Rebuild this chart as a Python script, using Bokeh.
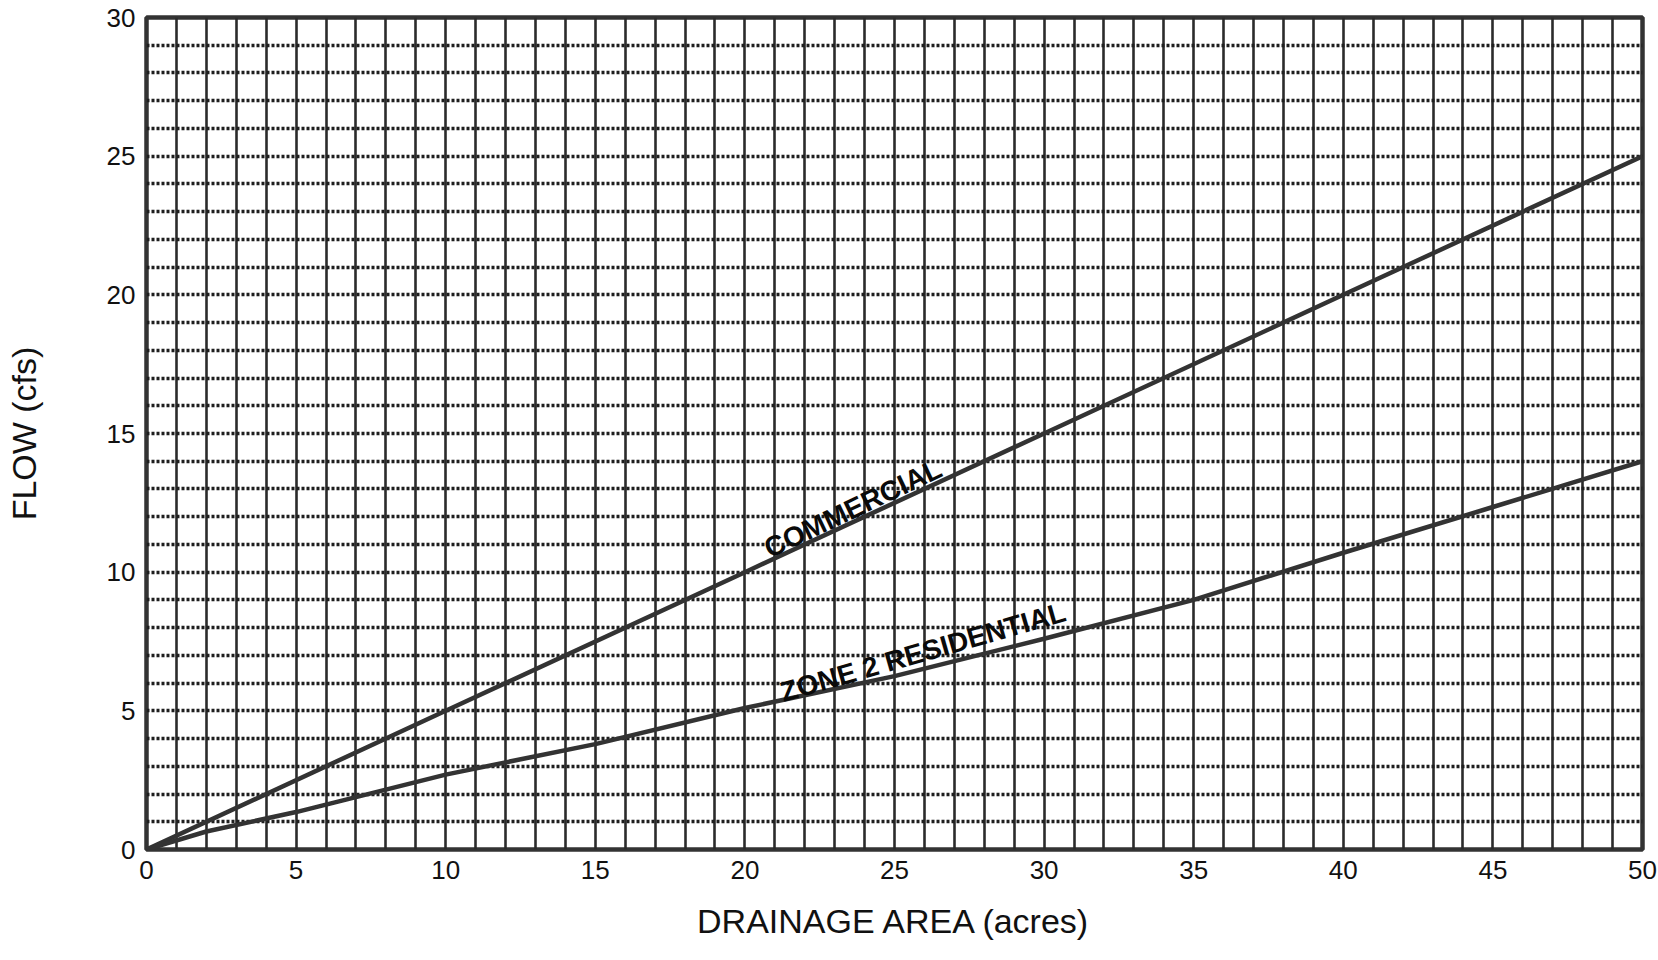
from bokeh.plotting import figure
from bokeh.models import FixedTicker, Range1d
from bokeh.core.properties import value
from bokeh.embed import file_html
from bokeh.resources import INLINE

# ---- data ----
commercial_acres = [0, 10, 20, 30, 40, 50]
commercial_flow = [0, 5, 10, 15, 20, 25]

residential_acres = [0, 2, 5, 10, 15, 20, 25, 30, 35, 40, 45, 50]
residential_flow = [0, 0.65, 1.35, 2.7, 3.8, 5.1, 6.25, 7.6, 9.0, 10.7, 12.35, 14.0]

x_ticks = [0, 5, 10, 15, 20, 25, 30, 35, 40, 45, 50]
y_ticks = [0, 5, 10, 15, 20, 25, 30]
x_grid = list(range(0, 51))
y_grid = list(range(0, 31))

x_title = "DRAINAGE AREA (acres)"
y_title = "FLOW (cfs)"

label_names = ["COMMERCIAL", "ZONE 2 RESIDENTIAL"]
label_x = [20.7, 21.2]
label_y = [10.8, 5.65]
label_angle = [25.5, 16.0]

FONT = "Liberation Sans"
DARK = "#2b2b2b"

p = figure(width=1658, height=960, output_backend="svg", toolbar_location=None,
           x_range=Range1d(0, 50), y_range=Range1d(0, 30),
           min_border_left=146, min_border_right=16, min_border_top=17,
           min_border_bottom=111)

p.background_fill_color = "white"
p.border_fill_color = "white"
p.outline_line_color = "#333333"
p.outline_line_width = 4.5

# grid
p.xgrid.ticker = FixedTicker(ticks=x_grid)
p.ygrid.ticker = FixedTicker(ticks=y_grid)
p.xgrid.grid_line_color = DARK
p.xgrid.grid_line_width = 2.6
p.xgrid.grid_line_alpha = 1.0
p.ygrid.grid_line_color = "#1e1e1e"
p.ygrid.grid_line_width = 3.6
p.ygrid.grid_line_dash = "3 2"
p.ygrid.grid_line_alpha = 1.0

# axes
for ax, ticks in ((p.xaxis, x_ticks), (p.yaxis, y_ticks)):
    ax.ticker = FixedTicker(ticks=ticks)
    ax.axis_line_color = None
    ax.major_tick_line_color = None
    ax.minor_tick_line_color = None
    ax.major_tick_out = 0
    ax.major_tick_in = 0
    ax.major_label_text_font = FONT
    ax.major_label_text_font_size = "26px"
    ax.major_label_text_color = "#111111"
    ax.major_label_standoff = 11
    ax.axis_label_text_font = FONT
    ax.axis_label_text_font_size = "34px"
    ax.axis_label_text_font_style = "normal"
    ax.axis_label_text_color = "#111111"

p.xaxis.axis_label = x_title
p.yaxis.axis_label = y_title
p.xaxis.axis_label_standoff = 20
p.yaxis.axis_label_standoff = 61

# curves
p.line(commercial_acres, commercial_flow, line_color="#333333", line_width=4.5)
p.line(residential_acres, residential_flow, line_color="#333333", line_width=4.5)

# labels
p.text(x=label_x, y=label_y, text=label_names, angle=label_angle, angle_units="deg",
       text_font=value(FONT), text_font_style="bold", text_font_size="28px",
       text_color="#0a0a0a", text_align="left", text_baseline="alphabetic")

open("out.html", "w").write(file_html(p, INLINE))
